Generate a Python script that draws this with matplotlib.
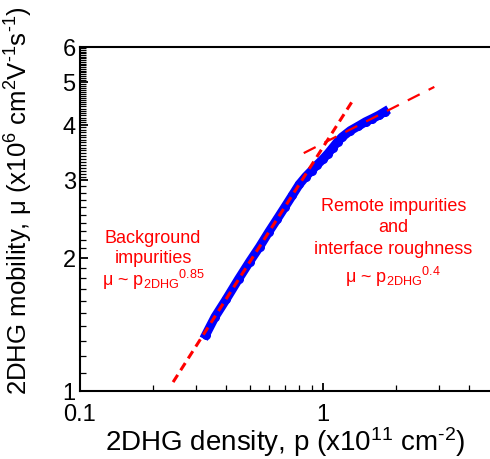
import numpy as np
import matplotlib
matplotlib.use("Agg")
import matplotlib.pyplot as plt
from matplotlib.ticker import FixedLocator, FixedFormatter, NullFormatter

plt.rcParams['font.family'] = ['Liberation Sans', 'DejaVu Sans']
plt.rcParams['mathtext.fontset'] = 'custom'
plt.rcParams['mathtext.rm'] = 'Liberation Sans'
plt.rcParams['mathtext.it'] = 'Liberation Sans:italic'
plt.rcParams['mathtext.default'] = 'regular'

density = [0.33, 0.36, 0.40, 0.45, 0.50, 0.55, 0.60, 0.65, 0.70, 0.75, 0.80, 0.85,
           0.90, 0.95, 1.00, 1.05, 1.10, 1.15, 1.20, 1.30, 1.40, 1.50, 1.60,
           1.70, 1.80]
mobility = [1.34, 1.47, 1.61, 1.79, 1.96, 2.12, 2.29, 2.45, 2.61, 2.77, 2.93, 3.05,
            3.15, 3.25, 3.34, 3.44, 3.55, 3.66, 3.75, 3.88, 3.97, 4.06, 4.13,
            4.20, 4.28]

# power-law guide lines (end points)
fit1_p = [0.242, 1.32]
fit1_mu = [1.047, 4.51]
fit2_p = [0.835, 2.88]
fit2_mu = [3.45, 4.87]

y_major = [1, 2, 3, 4, 5, 6]
x_major = [0.1, 1]
x_minor = [0.2, 0.3, 0.4, 0.5, 0.6, 0.7, 0.8, 0.9, 2, 3, 4]

fig = plt.figure(figsize=(4.9, 4.6), dpi=100)
ax = fig.add_axes([0.163, 0.148, 0.84, 0.748])

ax.plot(density, mobility, '-o', color='blue', lw=6.5, ms=5.5, zorder=2)
ax.plot(fit1_p, fit1_mu, '--', color='red', lw=2.2, dashes=(2.8, 1.8), zorder=3)
ax.plot(fit2_p, fit2_mu, '--', color='red', lw=1.6, dashes=(6, 4.5), zorder=3)

ax.set_xscale('log')
ax.set_yscale('log')
ax.set_xlim(0.1, 4.95)
ax.set_ylim(1, 6)

ax.yaxis.set_major_locator(FixedLocator(y_major))
ax.yaxis.set_major_formatter(FixedFormatter([str(v) for v in y_major]))
y_minor = list(np.arange(1.1, 3.0, 0.1)) + list(np.arange(3.05, 6.0, 0.05))
ax.yaxis.set_minor_locator(FixedLocator(y_minor))
ax.yaxis.set_minor_formatter(NullFormatter())

ax.xaxis.set_major_locator(FixedLocator(x_major))
ax.xaxis.set_major_formatter(FixedFormatter(['0.1', '1']))
ax.xaxis.set_minor_locator(FixedLocator(x_minor))
ax.xaxis.set_minor_formatter(NullFormatter())

ax.tick_params(which='both', direction='in', labelsize=17)
ax.tick_params(which='major', length=6, width=1.3)
ax.tick_params(which='minor', length=4, width=0.9)
ax.tick_params(axis='x', pad=9)
ax.tick_params(axis='y', pad=3)
ax.spines['right'].set_visible(False)
for s in ['left', 'bottom', 'top']:
    ax.spines[s].set_linewidth(1.5)

ax.set_xlabel(r'2DHG density, p (x10$^{11}$ cm$^{\text{-2}}$)', fontsize=20, labelpad=-1)
ax.set_ylabel(r'2DHG mobility, μ (x10$^{6}$ cm$^{2}$V$^{\text{-1}}$s$^{\text{-1}}$)', fontsize=18.5)
ax.yaxis.set_label_coords(-0.108, 0.555)

red_kw = dict(color='red', fontsize=13, ha='center', va='center')
ax.text(0.200, 2.22, 'Background', **red_kw)
ax.text(0.200, 2.0, 'impurities', **red_kw)
ax.text(0.200, 1.79, r'μ ~ p$_{2DHG}$${}^{0.85}$', **red_kw)
ax.text(1.95, 2.62, 'Remote impurities', **red_kw)
ax.text(1.95, 2.35, 'and', **red_kw)
ax.text(1.95, 2.10, 'interface roughness', **red_kw)
ax.text(1.95, 1.82, r'μ ~ p$_{2DHG}$${}^{0.4}$', **red_kw)

fig.savefig('out.png', dpi=100)
